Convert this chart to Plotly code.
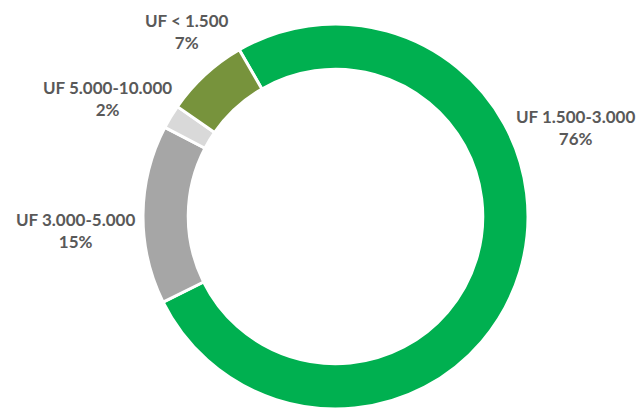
import plotly.graph_objects as go

labels = ["UF 1.500-3.000", "UF 3.000-5.000", "UF 5.000-10.000", "UF < 1.500"]
values = [76, 15, 2, 7]
colors = ["#00B050", "#A6A6A6", "#D9D9D9", "#77933C"]

# label centres in screen pixels
label_px = [(575, 127.5), (75, 230), (107, 98), (187, 31.5)]

W, H = 637, 412
cx, cy, R = 335.5, 216.5, 192.5

fig = go.Figure(go.Pie(
    labels=labels,
    values=values,
    hole=0.765,
    sort=False,
    direction="clockwise",
    rotation=-30,
    marker=dict(colors=colors, line=dict(color="white", width=3)),
    textinfo="none",
    hoverinfo="label+percent",
    domain=dict(x=[(cx - R) / W, (cx + R) / W], y=[(H - cy - R) / H, (H - cy + R) / H]),
    showlegend=False,
))

total = sum(values)
for lab, v, (px, py) in zip(labels, values, label_px):
    fig.add_annotation(
        x=px / W, y=1 - py / H, xref="paper", yref="paper",
        text=f"<b>{lab}<br>{round(100 * v / total)}%</b>",
        showarrow=False, align="center",
        font=dict(family="Lato, Open Sans, sans-serif", size=17, color="#595959"),
        xanchor="center", yanchor="middle",
    )

fig.update_layout(
    width=W, height=H,
    margin=dict(l=0, r=0, t=0, b=0),
    paper_bgcolor="white", plot_bgcolor="white",
)

fig.write_html(
    "out.html",
    config={"displayModeBar": False},
    post_script="document.body.style.margin='0';document.body.style.overflow='hidden';",
)
